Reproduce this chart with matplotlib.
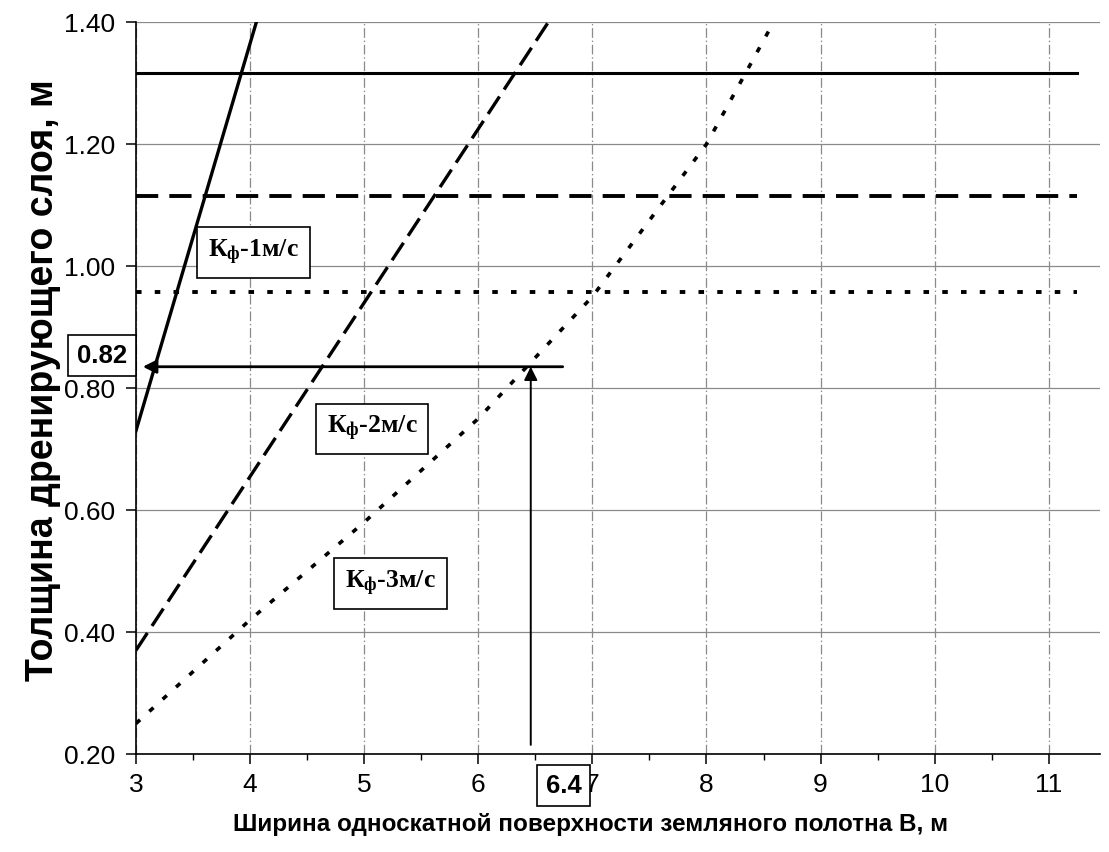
import numpy as np
import matplotlib
matplotlib.use("Agg")
import matplotlib.pyplot as plt
from matplotlib.ticker import MultipleLocator, FormatStrFormatter

plt.rcParams['font.family'] = ['Liberation Sans', 'DejaVu Sans']
plt.rcParams['mathtext.fontset'] = 'custom'
plt.rcParams['mathtext.rm'] = 'Liberation Serif'
plt.rcParams['mathtext.bf'] = 'Liberation Serif:bold'
plt.rcParams['lines.scale_dashes'] = False

# Ширина полотна B, м
b1 = [3, 4, 5]
h1 = [0.73, 1.365, 2.0]          # Кф = 1 м/с
b2 = [3, 4, 5, 6, 7]
h2 = [0.37, 0.655, 0.94, 1.225, 1.51]   # Кф = 2 м/с
b3 = [3, 4, 5, 6, 7, 8, 9]
h3 = [0.25, 0.42, 0.58, 0.75, 0.95, 1.20, 1.54]  # Кф = 3 м/с

# требуемая толщина (горизонтальные линии)
b_lim = [3, 11.25]
lim1 = [1.317, 1.317]
lim2 = [1.115, 1.115]
lim3 = [0.958, 0.958]

# пример определения по графику
b_read = 6.46
h_read = 0.835

fig = plt.figure(figsize=(11.09, 8.52), dpi=100)
ax = fig.add_axes([0.1226, 0.115, 0.8694, 0.859])

ax.set_xlim(3, 11.45)
ax.set_ylim(0.2, 1.4)

# сетка
ax.xaxis.set_major_locator(MultipleLocator(1))
ax.xaxis.set_minor_locator(MultipleLocator(0.5))
ax.yaxis.set_major_locator(MultipleLocator(0.2))
ax.yaxis.set_major_formatter(FormatStrFormatter('%.2f'))
ax.grid(axis='y', color='#8a8a8a', lw=0.9, ls='-')
ax.grid(axis='x', color='#8a8a8a', lw=0.9, ls=(0, (7, 2, 1, 2)))
ax.set_axisbelow(True)

for s in ['top', 'right']:
    ax.spines[s].set_visible(False)
ax.spines['left'].set_linewidth(1.2)
ax.spines['bottom'].set_linewidth(1.2)
ax.tick_params(axis='both', which='major', direction='out', length=7, width=1.1,
               labelsize=19, pad=8)
ax.tick_params(axis='x', which='minor', direction='out', length=4, width=1.0)
ax.tick_params(axis='x', which='major', pad=7)

# кривые
ax.plot(b1, h1, color='black', lw=2.4, ls='-')
ax.plot(b2, h2, color='black', lw=2.4, ls=(0, (15, 6)))
ax.plot(b3, h3, color='black', lw=2.6, ls=(0, (4, 9)))

ax.plot(b_lim, lim1, color='black', lw=2.2, ls='-')
ax.plot(b_lim, lim2, color='black', lw=2.8, ls=(0, (16, 8)))
ax.plot(b_lim, lim3, color='black', lw=2.8, ls=(0, (4, 9.5)))

# стрелки
ax.annotate('', xy=(3.06, h_read), xytext=(6.74, h_read),
            arrowprops=dict(arrowstyle='-|>', color='black', lw=2.0,
                            mutation_scale=20, shrinkA=0, shrinkB=0))
ax.annotate('', xy=(b_read, h_read), xytext=(b_read, 0.215),
            arrowprops=dict(arrowstyle='-|>', color='black', lw=1.4,
                            mutation_scale=20, shrinkA=0, shrinkB=0))

box = dict(boxstyle='square,pad=0.42', fc='white', ec='black', lw=1.2)
lab_kw = dict(fontsize=18.5, fontweight='bold', family='Liberation Serif',
              ha='center', va='center', bbox=box, zorder=5)
ax.text(4.03, 1.022, r'$\mathbf{К_{ф}}$-1м/с', **lab_kw)
ax.text(5.07, 0.733, r'$\mathbf{К_{ф}}$-2м/с', **lab_kw)
ax.text(5.23, 0.48, r'$\mathbf{К_{ф}}$-3м/с', **lab_kw)

num_box = dict(boxstyle='square,pad=0.34', fc='white', ec='black', lw=1.2)
ax.text(2.70, 0.853, '0.82', fontsize=18.5, fontweight='bold', ha='center',
        va='center', bbox=num_box, clip_on=False, zorder=6)
ax.text(6.75, 0.148, '6.4', fontsize=18.5, fontweight='bold', ha='center',
        va='center', bbox=num_box, clip_on=False, zorder=6)

ax.set_xlabel('Ширина односкатной поверхности земляного полотна В, м',
              fontsize=17.5, fontweight='bold')
ax.set_ylabel('Толщина дренирующего слоя, м', fontsize=27, fontweight='bold')
ax.xaxis.set_label_coords(0.472, -0.081)
ax.yaxis.set_label_coords(-0.078, 0.511)

fig.savefig('out.png', dpi=100)
